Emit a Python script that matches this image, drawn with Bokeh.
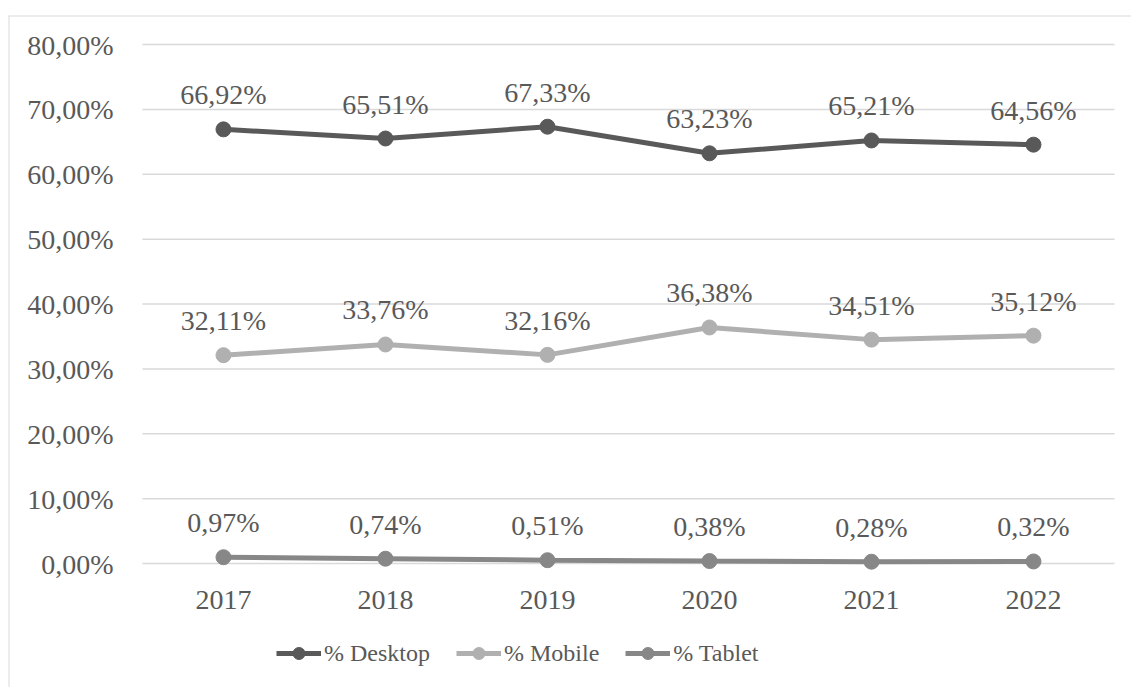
from bokeh.plotting import figure
from bokeh.models import ColumnDataSource, LabelSet, Legend, LegendItem, Range1d, Span
from bokeh.embed import file_html
from bokeh.resources import INLINE

years = ["2017", "2018", "2019", "2020", "2021", "2022"]
desktop = [66.92, 65.51, 67.33, 63.23, 65.21, 64.56]
mobile = [32.11, 33.76, 32.16, 36.38, 34.51, 35.12]
tablet = [0.97, 0.74, 0.51, 0.38, 0.28, 0.32]
series_names = ["% Desktop", "% Mobile", "% Tablet"]
series_colors = ["#595959", "#b0b0b0", "#878787"]
y_ticks = [0, 10, 20, 30, 40, 50, 60, 70, 80]
y_tick_labels = ["0,00%", "10,00%", "20,00%", "30,00%", "40,00%", "50,00%", "60,00%", "70,00%", "80,00%"]

FONT = "Liberation Serif"
TXT = "#595959"
GRID = "#d9d9d9"

idx = list(range(len(years)))

# plot area geometry (pixels): category width 162, 10 % = 64.875 px
X0, X1 = -1.327, 5.605
Y0, Y1 = -19.11, 84.47
p = figure(x_range=Range1d(X0, X1), y_range=Range1d(Y0, Y1),
           width=1131, height=687, output_backend="svg", toolbar_location=None,
           min_border_left=8, min_border_right=0, min_border_top=15, min_border_bottom=0)
p.axis.visible = False
p.xgrid.visible = False
p.ygrid.visible = False
p.outline_line_color = None
p.background_fill_color = "white"
p.border_fill_color = "white"

# chart border (top and left)
p.add_layout(Span(location=Y1, dimension="width", line_color=GRID, line_width=2))
p.add_layout(Span(location=X0, dimension="height", line_color=GRID, line_width=2))

# gridlines
p.segment(x0=[-0.5] * len(y_ticks), x1=[len(years) - 0.5] * len(y_ticks), y0=y_ticks, y1=y_ticks,
          line_color=GRID, line_width=1.5)

# y tick labels
ysrc = ColumnDataSource(dict(x=[-0.5] * len(y_ticks), y=y_ticks, t=y_tick_labels))
p.add_layout(LabelSet(x="x", y="y", text="t", source=ysrc, text_align="right",
                      text_baseline="alphabetic", x_offset=-29, y_offset=-10,
                      text_font=FONT, text_font_size="28px", text_color=TXT))
# x tick labels
xsrc = ColumnDataSource(dict(x=idx, y=[0] * len(years), t=years))
p.add_layout(LabelSet(x="x", y="y", text="t", source=xsrc, text_align="center",
                      text_baseline="alphabetic", y_offset=-45,
                      text_font=FONT, text_font_size="28px", text_color=TXT))

items = []
for name, vals, col in zip(series_names, [desktop, mobile, tablet], series_colors):
    src = ColumnDataSource(dict(x=idx, y=vals,
                                lbl=[f"{v:.2f}".replace(".", ",") + "%" for v in vals]))
    lr = p.line("x", "y", source=src, line_color=col, line_width=5)
    sr = p.scatter("x", "y", source=src, size=15, fill_color=col, line_color=col)
    p.add_layout(LabelSet(x="x", y="y", text="lbl", source=src, text_align="center",
                          text_baseline="alphabetic", y_offset=25,
                          text_font=FONT, text_font_size="28px", text_color=TXT))
    items.append(LegendItem(label=name, renderers=[lr, sr]))

legend = Legend(items=items, orientation="horizontal", location=(268, 19),
                label_text_font=FONT, label_text_font_size="24px", label_text_color=TXT,
                glyph_width=45, glyph_height=30, label_height=30, label_standoff=3,
                spacing=26, padding=0, margin=0, border_line_color=None,
                background_fill_alpha=0)
p.add_layout(legend, "center")

open("out.html", "w").write(file_html(p, INLINE))
